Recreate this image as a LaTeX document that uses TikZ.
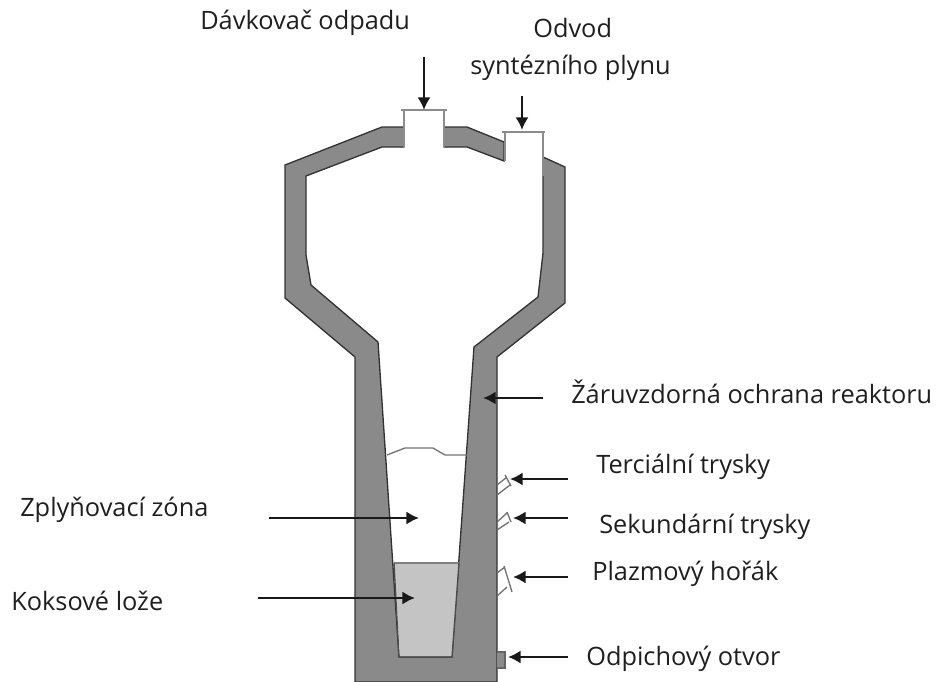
\documentclass[tikz,border=0pt]{standalone}
\usepackage{fontspec}
\setmainfont{Open Sans}
\usetikzlibrary{arrows.meta}
\tikzset{
  lbl/.style={inner sep=0pt,font=\fontsize{19}{22}\selectfont,text=black!88,anchor=base west},
  wall/.style={fill=black!46,draw=black!80,line width=1pt,line join=miter},
  thin wall/.style={draw=black!45,line width=1.3pt},
  fitting/.style={draw=black!55,line width=1pt,fill=white},
  pointer/.style={draw=black!90,line width=2.1pt,-{Latex[length=9.5pt,width=10pt]}}
}
\begin{document}
\begin{tikzpicture}[x=0.75pt,y=-0.75pt]
\useasboundingbox (0,0) rectangle (936,682);
% wall
\draw[wall] (355,682) -- (355,357) -- (285,298) -- (285,165) -- (382,127) -- (404,127) -- (404,147) -- (382,147) -- (306,176) -- (306,255) -- (311,285) -- (378,342) -- (399,657) -- (452,657) -- (474,347) -- (538,297) -- (543,253) -- (543,157) -- (565,167) -- (565,303) -- (497,357) -- (497,682) -- cycle;
\draw[wall] (444,127) -- (467,127) -- (504,142) -- (504,161) -- (467,147) -- (444,147) -- cycle;
% bed
\draw[fill=black!23,draw=none] (394,563) -- (459,563) -- (452,656) -- (400,656) -- cycle;
\draw[draw=black!50,line width=0.8pt] (394,563) -- (459,563);
\draw[draw=black!70,line width=1pt] (399,657) -- (452,657) (394,563) -- (399,657) (459,563) -- (452,657);
% surface
\draw[draw=black!55,line width=1pt] (387,455) -- (405,448) -- (433,448) -- (445,455) -- (467,455);
% outlets
\draw[thin wall] (404,147) -- (404,110) (444,147) -- (444,110);
\draw[thin wall] (401,110) -- (447,110);
\draw[thin wall] (505,161) -- (505,132) (543,176) -- (543,132);
\draw[thin wall] (502,132) -- (545,132);
% tuyeres
\draw[fitting] (497,485) -- (507,477) (497,495) -- (510,485) (505,475) -- (511,486);
\draw[fitting] (497,522) -- (507,513) (497,530) -- (509,522) (507,512) -- (511,522);
\draw[fitting] (497,573) -- (505,567) (497,596) -- (507,587) (504,566) -- (512,592);
% tap
\draw[fill=black!46,draw=black!60,line width=0.9pt] (497,652) -- (505,652) -- (505,668) -- (497,668);
% label texts
\node[lbl] (feed) at (200,29) {Dávkovač odpadu};
\node[lbl] (gas1) at (533,37) {Odvod};
\node[lbl] (gas2) at (470,74) {syntézního plynu};
\node[lbl] (wallt) at (571,403) {Žáruvzdorná ochrana reaktoru};
\node[lbl] (ter) at (596,473) {Terciální trysky};
\node[lbl] (sek) at (599,533) {Sekundární trysky};
\node[lbl] (pla) at (592,580) {Plazmový hořák};
\node[lbl] (odp) at (586,665) {Odpichový otvor};
\node[lbl] (zpl) at (20,516) {Zplyňovací zóna};
\node[lbl] (kok) at (11,610) {Koksové lože};
% pointer ends
\coordinate (a1) at (424,57); \coordinate (b1) at (424,110);
\coordinate (a2) at (522,96); \coordinate (b2) at (522,130);
\coordinate (a3) at (543,398); \coordinate (b3) at (483,398);
\coordinate (a4) at (568,479); \coordinate (b4) at (510,479);
\coordinate (a5) at (568,518); \coordinate (b5) at (513,518);
\coordinate (a6) at (568,577); \coordinate (b6) at (513,577);
\coordinate (a7) at (568,657); \coordinate (b7) at (508,657);
\coordinate (a8) at (269,518); \coordinate (b8) at (419,518);
\coordinate (a9) at (258,598); \coordinate (b9) at (415,598);
\foreach \i in {1,...,9} {\draw[pointer] (a\i) -- (b\i);}
\end{tikzpicture}
\end{document}
